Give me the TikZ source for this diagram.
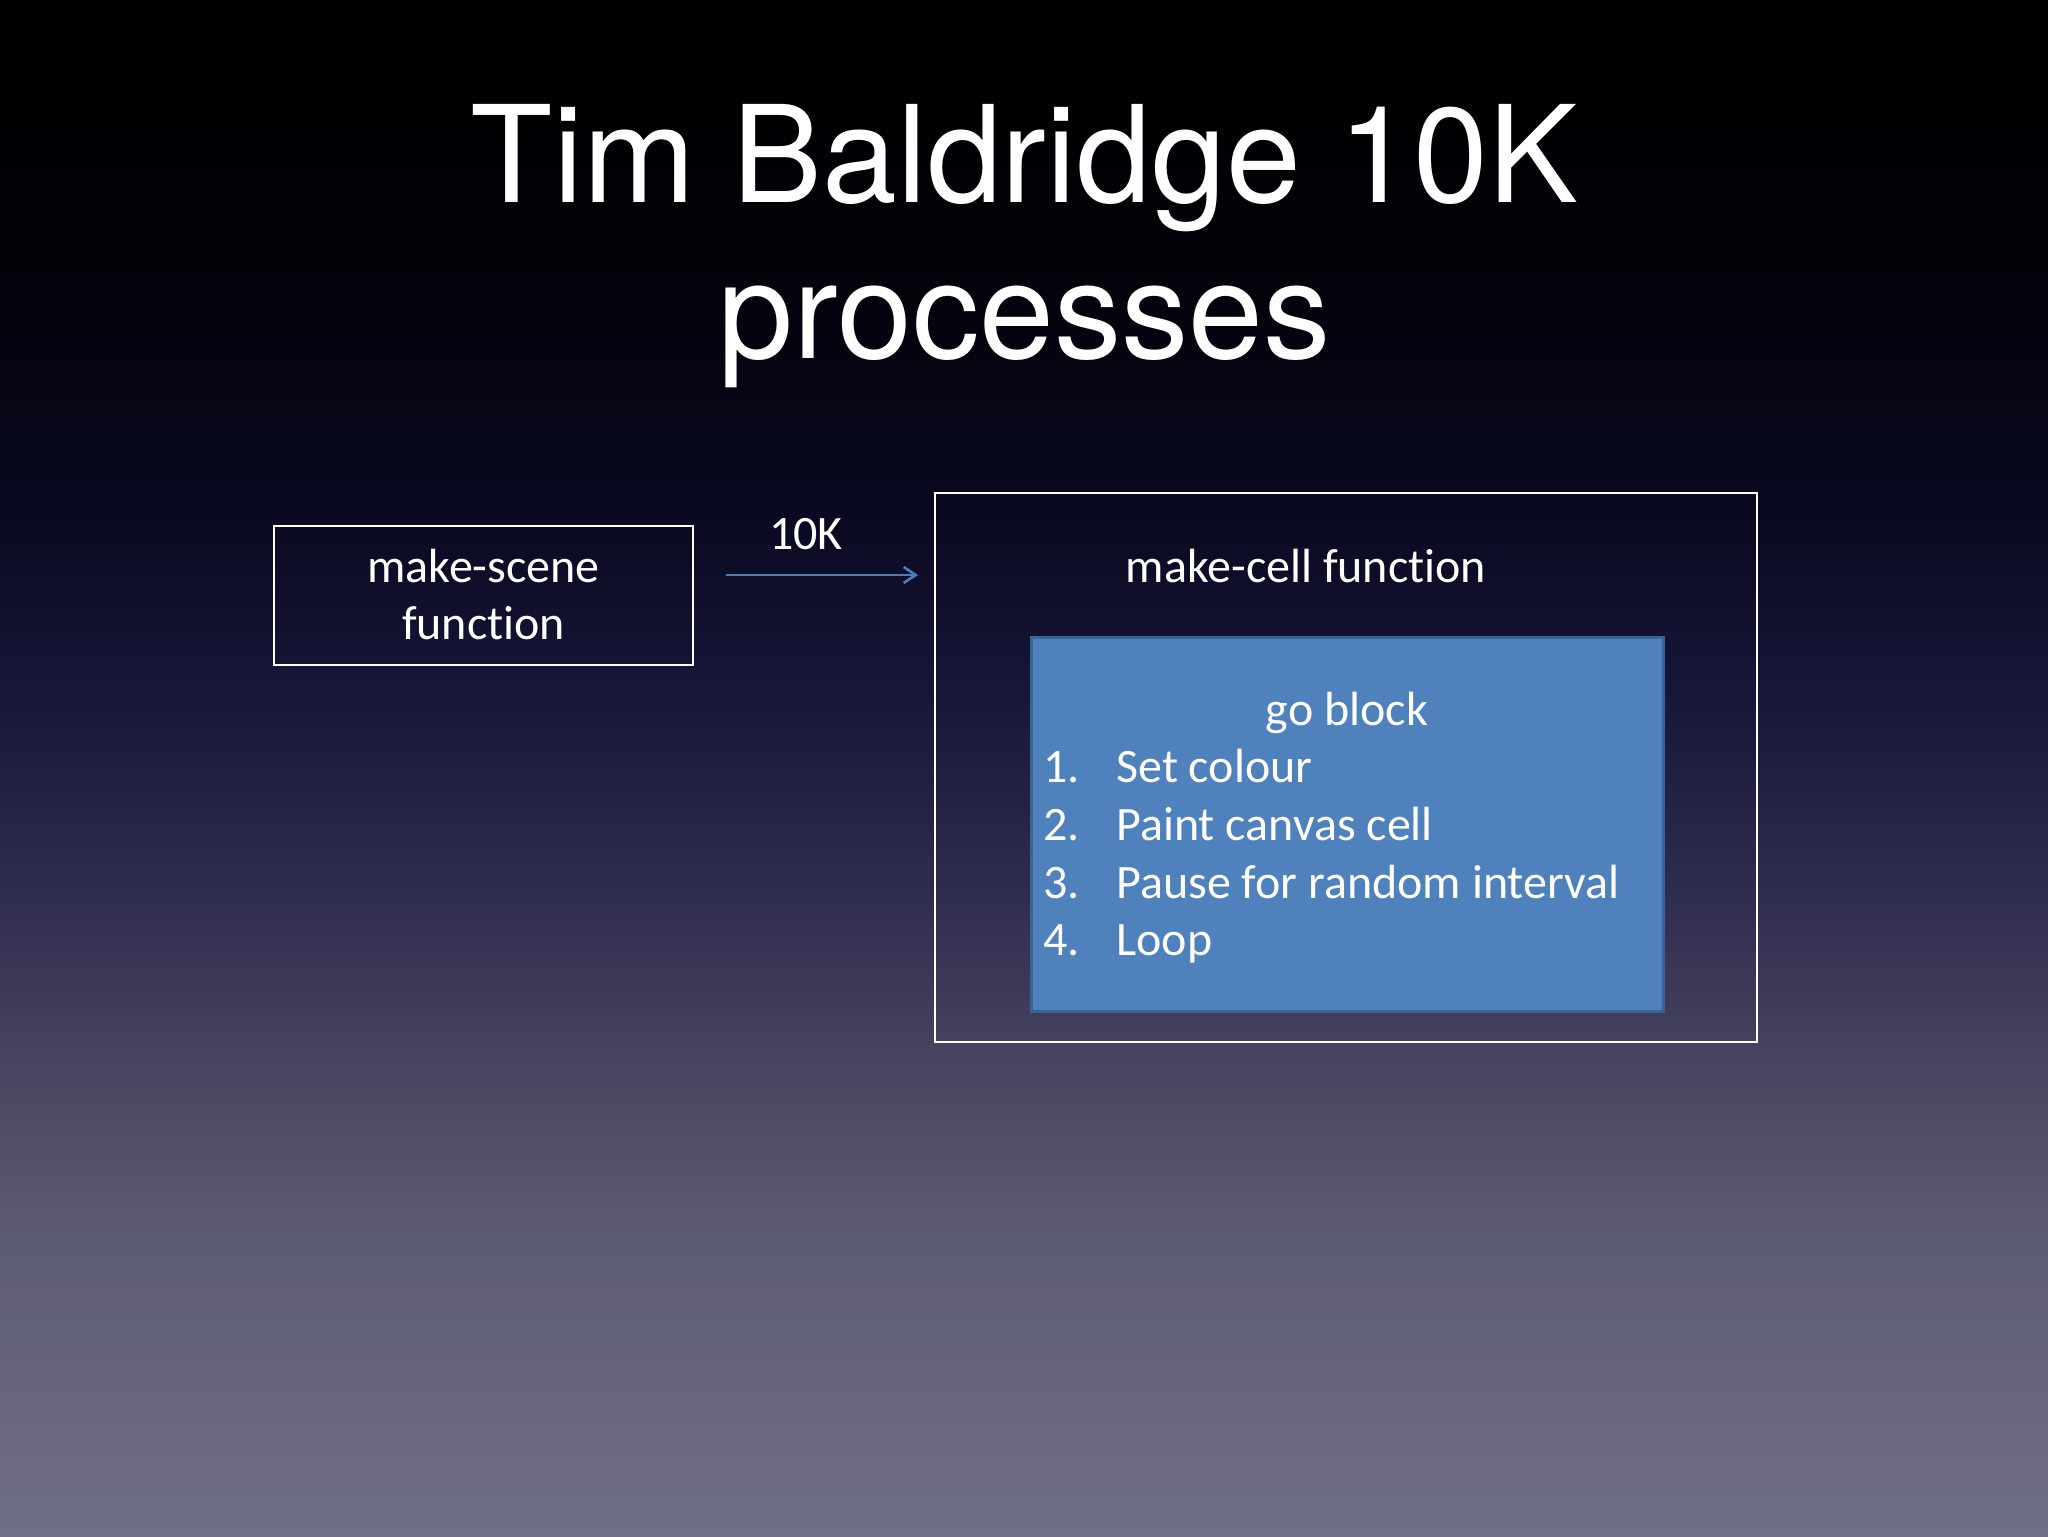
\documentclass[tikz,border=0pt]{standalone}
\usepackage{fontspec}
\setmainfont{Carlito}[Ligatures=NoCommon]
\newfontfamily\titlefont{TeX Gyre Heros}
\usetikzlibrary{arrows.meta}
\definecolor{bgA}{HTML}{000000}
\definecolor{bgB}{HTML}{020208}
\definecolor{bgC}{HTML}{08081F}
\definecolor{bgD}{HTML}{17173A}
\definecolor{bgE}{HTML}{302E50}
\definecolor{bgF}{HTML}{46425F}
\definecolor{bgG}{HTML}{5C5B74}
\definecolor{bgH}{HTML}{6F6F86}
\definecolor{goFill}{HTML}{4F81BD}
\definecolor{goEdge}{HTML}{3A6496}
\definecolor{arrowBlue}{HTML}{4A7EBB}
\tikzset{
  titletext/.style={text=white, inner sep=0pt, font=\titlefont\fontsize{67.3}{78}\selectfont},
  bodytext/.style={text=white, inner sep=0pt, font=\fontsize{24}{28.5}\selectfont},
  whitebox/.style={draw=white, line width=1pt, rectangle, inner sep=0pt},
  gobox/.style={draw=goEdge, fill=goFill, line width=1.5pt, rectangle, inner sep=0pt},
  flowarrow/.style={draw=arrowBlue, line width=1.3pt, -{Straight Barb[length=6pt,width=8pt]}}
}
\begin{document}
\begin{tikzpicture}[x=0.5pt,y=-0.5pt]
\useasboundingbox (0,0) rectangle (2048,1536);
% background gradient
\shade[top color=bgA, bottom color=bgB] (0,0) rectangle (2048,251);
\shade[top color=bgB, bottom color=bgC] (0,250) rectangle (2048,501);
\shade[top color=bgC, bottom color=bgD] (0,500) rectangle (2048,701);
\shade[top color=bgD, bottom color=bgE] (0,700) rectangle (2048,901);
\shade[top color=bgE, bottom color=bgF] (0,900) rectangle (2048,1051);
\shade[top color=bgF, bottom color=bgG] (0,1050) rectangle (2048,1237);
\shade[top color=bgG, bottom color=bgH] (0,1236) rectangle (2048,1536);
% title
\node[titletext, anchor=base] (title1) at (1024.5,202) {Tim Baldridge 10K};
\node[titletext, anchor=base] (title2) at (1024.5,358) {processes};
% boxes
\node[whitebox, minimum width=209.5pt, minimum height=69.5pt] (scene) at (483.5,595.5) {};
\node[whitebox, minimum width=411pt, minimum height=274.5pt] (cell) at (1346,767.5) {};
\node[gobox, minimum width=316pt, minimum height=187pt] (go) at (1347,824) {};
% texts
\node[bodytext, anchor=base] (scene1) at (483.5,582) {make-scene};
\node[bodytext, anchor=base] (scene2) at (483.5,639) {function};
\node[bodytext, anchor=base] (celltxt) at (1306,582) {make-cell function};
\node[bodytext, anchor=base] (gotxt) at (1347,725) {go block};
\node[bodytext, anchor=base west] (n1) at (1043,782) {1.};
\node[bodytext, anchor=base west] (i1) at (1116,782) {Set colour};
\node[bodytext, anchor=base west] (n2) at (1043,840) {2.};
\node[bodytext, anchor=base west] (i2) at (1116,840) {Paint canvas cell};
\node[bodytext, anchor=base west] (n3) at (1043,898) {3.};
\node[bodytext, anchor=base west] (i3) at (1116,898) {Pause for random interval};
\node[bodytext, anchor=base west] (n4) at (1043,955) {4.};
\node[bodytext, anchor=base west] (i4) at (1116,955) {Loop};
% arrow
\node[bodytext, anchor=base] (tenk) at (806,549) {10K};
\coordinate (arrS) at (726,575);
\coordinate (arrE) at (918,575);
\draw[flowarrow] (arrS) -- (arrE);
\end{tikzpicture}
\end{document}
